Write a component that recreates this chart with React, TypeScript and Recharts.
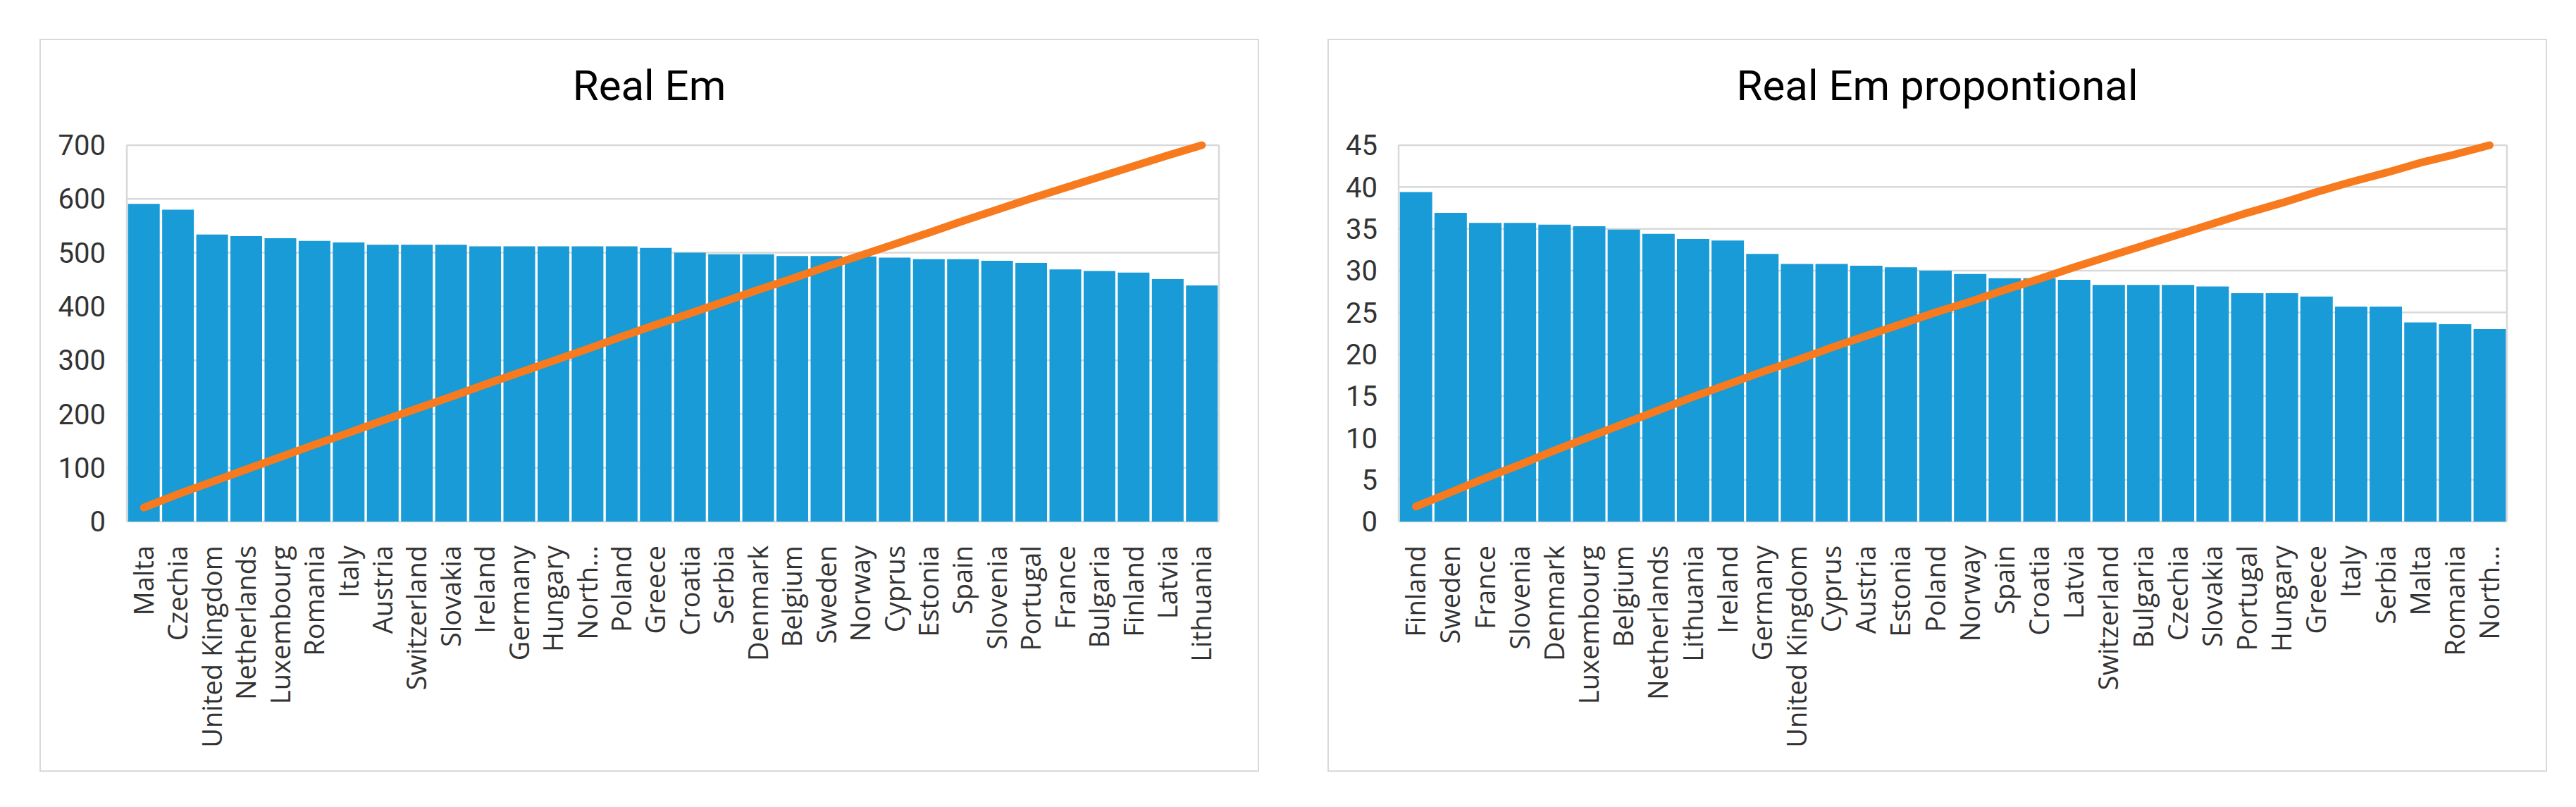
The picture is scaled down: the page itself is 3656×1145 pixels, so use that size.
import React from "react";
import { ComposedChart, Bar, Line, XAxis, YAxis, CartesianGrid } from "recharts";

// Left chart: "Real Em"
const emCountries = [
  "Malta", "Czechia", "United Kingdom", "Netherlands", "Luxembourg", "Romania", "Italy", "Austria",
  "Switzerland", "Slovakia", "Ireland", "Germany", "Hungary", "North...", "Poland", "Greece",
  "Croatia", "Serbia", "Denmark", "Belgium", "Sweden", "Norway", "Cyprus", "Estonia",
  "Spain", "Slovenia", "Portugal", "France", "Bulgaria", "Finland", "Latvia", "Lithuania",
];
const emValues = [
  591, 580, 534, 531, 527, 522, 519, 515, 515, 515, 512, 512, 512, 512, 512, 509,
  500, 497, 497, 494, 494, 493, 491, 488, 488, 485, 481, 469, 466, 463, 451, 439,
];
const emLine = [
  26, 51, 74, 97, 120, 143, 165, 188, 210, 232, 255, 277, 299, 321, 344, 366,
  387, 409, 431, 452, 474, 495, 516, 537, 559, 580, 601, 621, 641, 661, 681, 700,
];
const emTicks = [0, 100, 200, 300, 400, 500, 600, 700];

// Right chart: "Real Em propontional"
const propCountries = [
  "Finland", "Sweden", "France", "Slovenia", "Denmark", "Luxembourg", "Belgium", "Netherlands",
  "Lithuania", "Ireland", "Germany", "United Kingdom", "Cyprus", "Austria", "Estonia", "Poland",
  "Norway", "Spain", "Croatia", "Latvia", "Switzerland", "Bulgaria", "Czechia", "Slovakia",
  "Portugal", "Hungary", "Greece", "Italy", "Serbia", "Malta", "Romania", "North...",
];
const propValues = [
  39.4, 36.9, 35.7, 35.7, 35.5, 35.3, 34.9, 34.4, 33.8, 33.6, 32.0, 30.8, 30.8, 30.6, 30.4, 30.0,
  29.6, 29.1, 29.1, 28.9, 28.3, 28.3, 28.3, 28.1, 27.3, 27.3, 26.9, 25.7, 25.7, 23.8, 23.6, 23.0,
];
const propLine = [
  1.8, 3.5, 5.2, 6.8, 8.5, 10.1, 11.7, 13.3, 14.9, 16.4, 17.9, 19.3, 20.8, 22.2, 23.6, 25.0,
  26.3, 27.7, 29.0, 30.4, 31.7, 33.0, 34.3, 35.6, 36.9, 38.1, 39.4, 40.6, 41.7, 42.9, 43.9, 45.0,
];
const propTicks = [0, 5, 10, 15, 20, 25, 30, 35, 40, 45];

const BLUE = "#189BD6";
const ORANGE = "#F77B1E";
const GRID = "#D9D9D9";
const NARROW = '"Liberation Sans Narrow", "Arial Narrow", Roboto, sans-serif';
const LABEL_FONT = '"Open Sans", "Noto Sans", sans-serif';

const FRAME_W = 1731;
const FRAME_H = 1040;

function CountryTick({ x, y, payload }: any) {
  return (
    <g transform={`translate(${x},${y})`}>
      <text
        transform="rotate(-90)"
        textAnchor="end"
        dy="0.36em"
        fontSize={38}
        fontFamily={LABEL_FONT}
        fill="#333"
      >
        {payload.value}
      </text>
    </g>
  );
}

function ParetoChart({
  title,
  left,
  categories,
  values,
  line,
  ticks,
  yAxisWidth,
}: {
  title: string;
  left: number;
  categories: string[];
  values: number[];
  line: number[];
  ticks: number[];
  yAxisWidth: number;
}) {
  const data = categories.map((c, i) => ({ country: c, value: values[i], cum: line[i] }));
  const yMax = ticks[ticks.length - 1];
  return (
    <div
      style={{
        position: "absolute",
        left,
        top: 55,
        width: FRAME_W,
        height: FRAME_H,
        outline: `2px solid ${GRID}`,
        outlineOffset: -2,
        background: "#fff",
      }}
    >
      <div
        style={{
          position: "absolute",
          top: 37,
          left: 0,
          right: 0,
          textAlign: "center",
          fontFamily: NARROW,
          fontSize: 60,
          lineHeight: 1,
          color: "#000",
        }}
      >
        {title}
      </div>
      <ComposedChart
        width={FRAME_W}
        height={FRAME_H}
        data={data}
        margin={{ top: 151, right: 57, bottom: 0, left: 0 }}
        barCategoryGap={1.7}
      >
        <CartesianGrid
          stroke={GRID}
          strokeWidth={2.5}
          verticalCoordinatesGenerator={({ offset }: any) => [offset.left, offset.left + offset.width]}
        />
        <XAxis
          dataKey="country"
          interval={0}
          height={FRAME_H - 685}
          axisLine={false}
          tickLine={false}
          tickSize={0}
          tickMargin={34}
          tick={<CountryTick />}
        />
        <YAxis
          domain={[0, yMax]}
          ticks={ticks}
          width={yAxisWidth}
          axisLine={false}
          tickLine={false}
          tickSize={0}
          tickMargin={30}
          tick={{ fontSize: 40, fontFamily: NARROW, fill: "#333" }}
        />
        <Bar dataKey="value" fill={BLUE} isAnimationActive={false} />
        <Line
          type="linear"
          dataKey="cum"
          stroke={ORANGE}
          strokeWidth={11}
          strokeLinecap="round"
          strokeLinejoin="round"
          dot={false}
          isAnimationActive={false}
        />
      </ComposedChart>
    </div>
  );
}

export default function App() {
  return (
    <div
      style={{
        position: "absolute",
        left: 0,
        top: 0,
        width: 3656,
        height: 1145,
        background: "#fff",
      }}
    >
      <ParetoChart
        title="Real Em"
        left={56}
        categories={emCountries}
        values={emValues}
        line={emLine}
        ticks={emTicks}
        yAxisWidth={124}
      />
      <ParetoChart
        title="Real Em propontional"
        left={1884}
        categories={propCountries}
        values={propValues}
        line={propLine}
        ticks={propTicks}
        yAxisWidth={101}
      />
    </div>
  );
}
